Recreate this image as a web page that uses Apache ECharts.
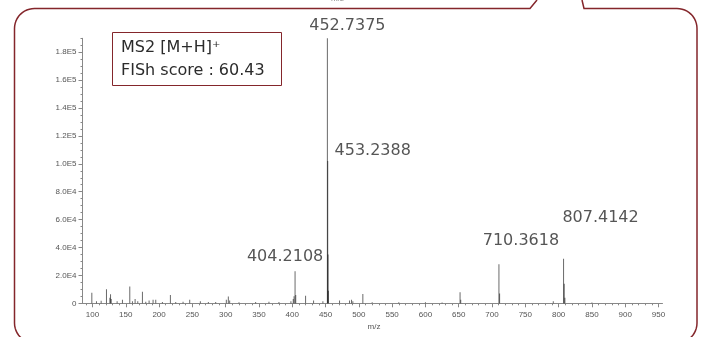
<!DOCTYPE html>
<html>
<head>
<meta charset="utf-8">
<script src="https://cdn.jsdelivr.net/npm/echarts@6/dist/echarts.min.js"></script>
<style>
  html, body { margin: 0; padding: 0; background: #fff; }
  #chart { width: 701px; height: 337px; }
</style>
</head>
<body>
<div id="chart"></div>
<script>
// MS2 spectrum: centroid m/z values and their intensities
const mzValues = [
  99, 106, 113, 121, 126.1, 127.1, 128.1, 137, 145, 156, 160, 164, 168, 175, 180,
  185, 191, 195, 205, 217, 225, 236, 246, 262, 274, 285, 301, 304, 306, 320,
  345, 365, 380, 398, 401.5, 402.7, 404.2108, 405.21, 420, 432, 446,
  452.7375, 453.2388, 453.74, 454.24, 471, 486, 489, 491, 506, 520, 560,
  600, 625, 652, 653, 710.3618, 711.36, 792, 807.4142, 808.42, 809.42, 850
];
const intensities = [
  7600, 1500, 1800, 10000, 4000, 6500, 3000, 1500, 2500, 12000, 1500, 3000, 1500, 8300, 1200,
  2000, 2500, 2500, 1000, 6000, 1000, 1200, 2500, 1500, 1000, 1000, 2500, 4800, 2000, 800,
  1000, 1200, 1000, 1500, 3000, 5000, 23000, 6000, 5500, 2000, 1500,
  190000, 102000, 35000, 9000, 2000, 2000, 2500, 1500, 6700, 800, 700,
  800, 600, 8000, 2500, 28000, 7000, 1500, 32000, 14000, 4000, 600
];

// annotated peaks
const labelledPeaks = [452.7375, 453.2388, 404.2108, 710.3618, 807.4142];
// label offsets from each peak apex, in pixels
const labelOffsets = [[20, -12], [45, -10], [-10, -14], [22, -23], [37, -41]];

// axis ticks
const xTickValues = [100, 150, 200, 250, 300, 350, 400, 450, 500, 550, 600, 650, 700, 750, 800, 850, 900, 950];
const yTickValues = [0, 20000, 40000, 60000, 80000, 100000, 120000, 140000, 160000, 180000];
const xMinorValues = [];
for (let v = 90; v <= 950; v += 10) xMinorValues.push(v);
const yMinorValues = [];
for (let v = 0; v <= 190000; v += 5000) yMinorValues.push(v);

const X_MIN = 85, X_MAX = 956, Y_MAX = 190000;

const spectrum = mzValues.map((mz, i) => [mz, intensities[i]]);
const labelData = labelledPeaks.map((mz, i) => ({
  value: [mz, intensities[mzValues.indexOf(mz)]],
  label: { offset: labelOffsets[i] }
}));

// rounded frame: points along a quarter circle
function corner(cx, cy, r, a0, a1) {
  const pts = [];
  for (let k = 0; k <= 12; k++) {
    const a = (a0 + (a1 - a0) * k / 12) * Math.PI / 180;
    pts.push([cx + r * Math.cos(a), cy + r * Math.sin(a)]);
  }
  return pts;
}
const R = 20, L = 14.5, T = 8.5, RT = 697, B = 343;
const frameLeft = [].concat(
  corner(L + R, B - R, R, 90, 180),
  corner(L + R, T + R, R, 180, 270),
  [[530, T], [537, 0]]
);
const frameRight = [].concat(
  [[582, 0], [584, T]],
  corner(RT - R, T + R, R, 270, 360),
  corner(RT - R, B - R, R, 0, 90)
);

const chart = echarts.init(document.getElementById('chart'), null, { renderer: 'canvas' });

const axisFont = { fontFamily: 'Liberation Sans, Arial, sans-serif', fontSize: 8, color: '#555' };

chart.setOption({
  animation: false,
  backgroundColor: '#fff',
  grid: { left: 82.5, right: 38.5, top: 38.3, bottom: 33.7 },
  xAxis: [
    {
      type: 'value', min: X_MIN, max: X_MAX,
      name: 'm/z', nameLocation: 'middle', nameGap: 18,
      nameTextStyle: Object.assign({}, axisFont, { padding: [0, 0, 0, 3] }),
      axisLine: { show: true, onZero: false, lineStyle: { color: '#888', width: 1 } },
      axisTick: { show: true, length: 4, customValues: xTickValues, lineStyle: { color: '#888' } },
      axisLabel: Object.assign({ show: true, margin: 7, customValues: xTickValues }, axisFont),
      splitLine: { show: false }
    },
    {
      type: 'value', min: X_MIN, max: X_MAX, position: 'bottom',
      axisLine: { show: false },
      axisTick: { show: true, length: 2, customValues: xMinorValues, lineStyle: { color: '#888' } },
      axisLabel: { show: false },
      splitLine: { show: false }
    }
  ],
  yAxis: [
    {
      type: 'value', min: 0, max: Y_MAX,
      axisLine: { show: true, lineStyle: { color: '#888', width: 1 } },
      axisTick: { show: true, length: 4, customValues: yTickValues, lineStyle: { color: '#888' } },
      axisLabel: Object.assign({
        show: true, margin: 6, customValues: yTickValues,
        formatter: v => v === 0 ? '0' : v.toExponential(1).toUpperCase().replace('+', '')
      }, axisFont),
      splitLine: { show: false }
    },
    {
      type: 'value', min: 0, max: Y_MAX, position: 'left',
      axisLine: { show: false },
      axisTick: { show: true, length: 2, customValues: yMinorValues, lineStyle: { color: '#888' } },
      axisLabel: { show: false },
      splitLine: { show: false }
    }
  ],
  series: [
    {
      type: 'bar',
      xAxisIndex: 0, yAxisIndex: 0,
      barWidth: 1,
      itemStyle: { color: 'rgba(15,15,15,0.62)' },
      data: spectrum,
      silent: true
    },
    {
      type: 'scatter',
      xAxisIndex: 0, yAxisIndex: 0,
      symbolSize: 0,
      data: labelData,
      label: {
        show: true, position: 'inside',
        fontFamily: 'DejaVu Sans', fontSize: 16, color: '#2b2b2b',
        formatter: p => p.value[0].toFixed(4)
      },
      silent: true
    }
  ],
  graphic: [
    {
      type: 'polyline', shape: { points: frameLeft },
      style: { fill: null, stroke: '#84262b', lineWidth: 1.5 }, silent: true
    },
    {
      type: 'polyline', shape: { points: frameRight },
      style: { fill: null, stroke: '#84262b', lineWidth: 1.5 }, silent: true
    },
    {
      type: 'text', x: 331, y: -5,
      style: { text: 'm/z', fontFamily: 'Liberation Sans, Arial, sans-serif', fontSize: 8, fill: '#888' }
    },
    {
      type: 'rect',
      shape: { x: 112.5, y: 32.5, width: 169, height: 53 },
      style: { fill: '#fff', stroke: '#84262b', lineWidth: 1 }
    },
    {
      type: 'text', x: 121, y: 48,
      style: { text: 'MS2 [M+H]\u207A', fontFamily: 'DejaVu Sans', fontSize: 16, fill: '#2b2b2b', verticalAlign: 'middle' }
    },
    {
      type: 'text', x: 121, y: 71,
      style: { text: 'FISh score : 60.43', fontFamily: 'DejaVu Sans', fontSize: 16, fill: '#2b2b2b', verticalAlign: 'middle' }
    }
  ]
});
</script>
</body>
</html>
